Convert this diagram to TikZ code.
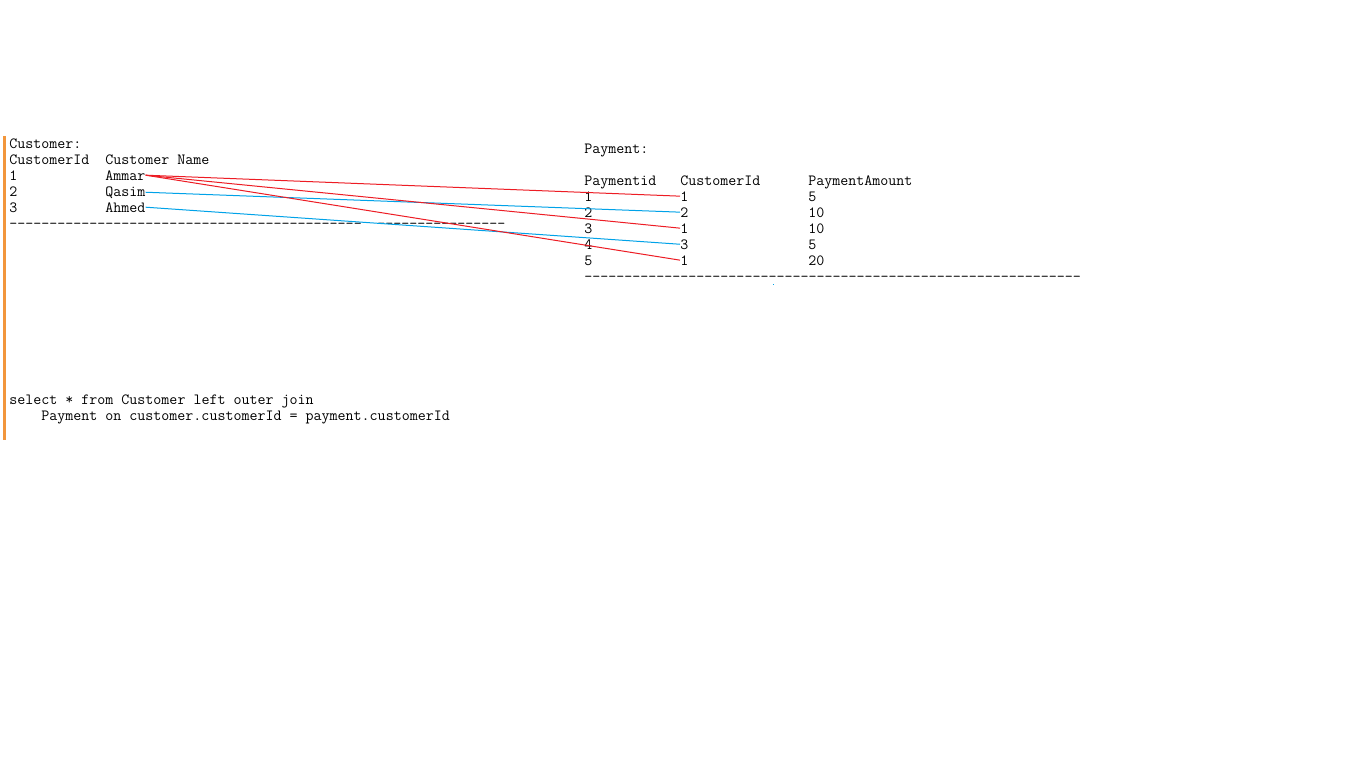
\documentclass[tikz,border=0pt]{standalone}
\usepackage{fontspec}
\definecolor{pred}{RGB}{237,28,36}
\definecolor{pblue}{RGB}{0,162,232}
\definecolor{porange}{RGB}{242,150,60}
\begin{document}
\begin{tikzpicture}[x=0.75pt,y=-0.75pt,
  txt/.style={anchor=base west,inner sep=0pt,font=\ttfamily\fontsize{11.667pt}{12pt}\selectfont},
  redlink/.style={draw=pred,line width=0.75pt},
  bluelink/.style={draw=pblue,line width=0.75pt}]
\useasboundingbox (0,0) rectangle (1366,768);
\fill[white] (0,0) rectangle (1366,768);
% orange margin bar
\fill[porange] (3,136) rectangle (6,440);
% Customer table
\node[txt] (ctitle) at (9,148) {Customer:};
\node[txt] (chid) at (9,164) {CustomerId};
\node[txt] (chname) at (105,164) {Customer Name};
\node[txt] (cid1) at (9,180) {1};
\node[txt] (cn1) at (105,180) {Ammar};
\node[txt] (cid2) at (9,196) {2};
\node[txt] (cn2) at (105,196) {Qasim};
\node[txt] (cid3) at (9,212) {3};
\node[txt] (cn3) at (105,212) {Ahmed};
\node[txt] (cdash1) at (9,228) {--------------------------------------------};
\node[txt] (cdash2) at (377,228) {----------------};
% Payment table
\node[txt] (ptitle) at (584,153) {Payment:};
\node[txt] (phpid) at (584,185) {Paymentid};
\node[txt] (phcid) at (680,185) {CustomerId};
\node[txt] (phamt) at (808,185) {PaymentAmount};
\node[txt] (pid1) at (584,201) {1};
\node[txt] (pcid1) at (680,201) {1};
\node[txt] (pamt1) at (808,201) {5};
\node[txt] (pid2) at (584,217) {2};
\node[txt] (pcid2) at (680,217) {2};
\node[txt] (pamt2) at (808,217) {10};
\node[txt] (pid3) at (584,233) {3};
\node[txt] (pcid3) at (680,233) {1};
\node[txt] (pamt3) at (808,233) {10};
\node[txt] (pid4) at (584,249) {4};
\node[txt] (pcid4) at (680,249) {3};
\node[txt] (pamt4) at (808,249) {5};
\node[txt] (pid5) at (584,265) {5};
\node[txt] (pcid5) at (680,265) {1};
\node[txt] (pamt5) at (808,265) {20};
\node[txt] (pdash) at (584,281) {--------------------------------------------------------------};
% SQL
\node[txt] (sql1) at (9,404) {select * from Customer left outer join};
\node[txt] (sql2) at (41,420) {Payment on customer.customerId = payment.customerId};
% join links
\draw[redlink] (cn1.east) -- (pcid1.west);
\draw[bluelink] (cn2.east) -- (pcid2.west);
\draw[redlink] (cn1.east) -- (pcid3.west);
\draw[bluelink] (cn3.east) -- (pcid4.west);
\draw[redlink] (cn1.east) -- (pcid5.west);
% stray dot
\fill[pblue] (772.5,283.5) rectangle (774,285);
\end{tikzpicture}
\end{document}
